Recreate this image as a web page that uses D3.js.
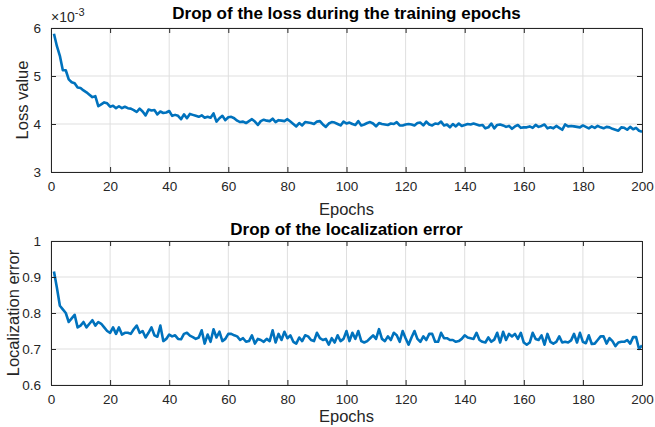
<!DOCTYPE html>
<html>
<head>
<meta charset="utf-8">
<script src="https://cdn.jsdelivr.net/npm/d3@7"></script>
<style>
  body { margin: 0; background: #fff; }
  svg { display: block; font-family: "Liberation Sans", Arial, sans-serif; }
</style>
</head>
<body>
<div id="chart"></div>
<script>
// loss values (x 1e-3), epochs 1..200
const lossValues = [
  5.88, 5.62, 5.42, 5.12, 5.12, 4.93, 4.87, 4.85, 4.76, 4.75,
  4.70, 4.66, 4.61, 4.56, 4.58, 4.37, 4.41, 4.45, 4.43, 4.36,
  4.38, 4.33, 4.37, 4.33, 4.36, 4.33, 4.32, 4.29, 4.25, 4.32,
  4.26, 4.18, 4.30, 4.28, 4.29, 4.20, 4.26, 4.23, 4.24, 4.27,
  4.17, 4.19, 4.17, 4.10, 4.20, 4.12, 4.21, 4.19, 4.17, 4.15,
  4.18, 4.13, 4.15, 4.13, 4.22, 4.05, 4.12, 4.17, 4.08, 4.14,
  4.15, 4.12, 4.07, 4.04, 4.05, 4.02, 4.06, 4.10, 4.05, 3.98,
  4.06, 4.09, 4.07, 4.06, 4.11, 4.04, 4.08, 4.07, 4.06, 4.10,
  4.05, 4.00, 3.95, 4.02, 3.97, 4.04, 4.03, 4.02, 4.00, 4.05,
  4.06, 3.99, 3.94, 4.01, 4.04, 4.03, 4.00, 3.97, 4.05, 4.01,
  4.03, 4.00, 3.98, 4.06, 3.97, 3.99, 4.02, 4.04, 4.01, 3.95,
  4.02, 4.00, 3.99, 3.98, 4.01, 4.00, 4.04, 3.97, 3.97, 3.99,
  4.00, 3.99, 3.97, 4.02, 4.03, 3.97, 4.05, 3.99, 3.97, 4.01,
  4.00, 4.05, 3.97, 3.99, 3.93, 4.00, 3.95, 4.01, 3.96, 3.98,
  4.00, 3.99, 4.01, 3.99, 3.97, 3.98, 3.91, 3.93, 4.01, 3.91,
  3.98, 3.99, 3.97, 3.94, 3.96, 3.90, 3.95, 3.98, 3.92, 3.93,
  3.93, 3.95, 3.92, 3.98, 3.94, 3.96, 3.99, 3.91, 3.93, 3.91,
  3.96, 3.92, 3.88, 3.99, 3.95, 3.96, 3.95, 3.94, 3.93, 3.97,
  3.94, 3.91, 3.95, 3.92, 3.96, 3.93, 3.91, 3.94, 3.93, 3.90,
  3.88, 3.86, 3.93, 3.92, 3.88, 3.94, 3.89, 3.92, 3.86, 3.84
];

// localization error, epochs 1..200
const locError = [
  0.915, 0.87, 0.82, 0.81, 0.80, 0.775, 0.785, 0.795, 0.76, 0.765,
  0.775, 0.76, 0.77, 0.78, 0.765, 0.775, 0.77, 0.76, 0.75, 0.745,
  0.76, 0.742, 0.76, 0.74, 0.745, 0.745, 0.742, 0.755, 0.765, 0.745,
  0.75, 0.732, 0.745, 0.76, 0.738, 0.734, 0.765, 0.722, 0.728, 0.74,
  0.735, 0.738, 0.728, 0.727, 0.742, 0.745, 0.737, 0.733, 0.728, 0.732,
  0.752, 0.715, 0.74, 0.72, 0.755, 0.732, 0.748, 0.722, 0.728, 0.742,
  0.742, 0.738, 0.735, 0.725, 0.73, 0.72, 0.722, 0.738, 0.715, 0.728,
  0.725, 0.72, 0.728, 0.722, 0.752, 0.718, 0.742, 0.725, 0.748, 0.73,
  0.738, 0.72, 0.715, 0.732, 0.722, 0.738, 0.735, 0.725, 0.722, 0.745,
  0.73, 0.725, 0.728, 0.712, 0.73, 0.718, 0.738, 0.722, 0.728, 0.75,
  0.722, 0.745, 0.728, 0.75, 0.722, 0.718, 0.722, 0.73, 0.738, 0.728,
  0.755, 0.728, 0.722, 0.735, 0.725, 0.745, 0.738, 0.72, 0.75, 0.73,
  0.712, 0.732, 0.75, 0.728, 0.72, 0.735, 0.725, 0.742, 0.742, 0.72,
  0.72, 0.745, 0.73, 0.73, 0.725, 0.725, 0.72, 0.722, 0.728, 0.738,
  0.732, 0.73, 0.728, 0.745, 0.725, 0.72, 0.718, 0.732, 0.72, 0.726,
  0.745, 0.718, 0.748, 0.725, 0.742, 0.735, 0.742, 0.728, 0.745, 0.718,
  0.712, 0.718, 0.745, 0.728, 0.725, 0.738, 0.712, 0.742, 0.72, 0.715,
  0.72, 0.735, 0.718, 0.72, 0.718, 0.724, 0.742, 0.718, 0.745, 0.72,
  0.716, 0.738, 0.714, 0.715, 0.725, 0.735, 0.735, 0.715, 0.73, 0.722,
  0.708, 0.718, 0.72, 0.72, 0.725, 0.715, 0.733, 0.733, 0.70, 0.71
];

const xTicks = [0, 20, 40, 60, 80, 100, 120, 140, 160, 180, 200];
const lossTicks = [3, 4, 5, 6];
const errTicks = [0.6, 0.7, 0.8, 0.9, 1];

const width = 655, height = 427;
const svg = d3.select("#chart").append("svg")
  .attr("width", width)
  .attr("height", height);

const axisColor = "#262626";
const lineColor = "#0072BD";

function drawPanel(cfg) {
  const x = d3.scaleLinear().domain([0, 200]).range([cfg.left, cfg.right]);
  const y = d3.scaleLinear().domain(cfg.yDomain).range([cfg.bottom, cfg.top]);
  const g = svg.append("g");

  // grid
  g.selectAll(".gx").data(xTicks).enter().append("line")
    .attr("x1", d => x(d)).attr("x2", d => x(d))
    .attr("y1", cfg.top).attr("y2", cfg.bottom)
    .attr("stroke", "#dfdfdf").attr("stroke-width", 1);
  g.selectAll(".gy").data(cfg.yTicks).enter().append("line")
    .attr("x1", cfg.left).attr("x2", cfg.right)
    .attr("y1", d => y(d)).attr("y2", d => y(d))
    .attr("stroke", "#dfdfdf").attr("stroke-width", 1);

  // data line
  const line = d3.line().x((d, i) => x(i + 1)).y(d => y(d));
  g.append("path").datum(cfg.values)
    .attr("d", line)
    .attr("fill", "none")
    .attr("stroke", lineColor)
    .attr("stroke-width", 2.6)
    .attr("stroke-linejoin", "round");

  // axes (ticks inside, box)
  const tl = 5;
  const bottomAxis = d3.axisBottom(x).tickValues(xTicks).tickSizeInner(-tl).tickSizeOuter(0).tickPadding(9);
  const topAxis = d3.axisTop(x).tickValues(xTicks).tickSizeInner(-tl).tickSizeOuter(0).tickFormat("");
  const leftAxis = d3.axisLeft(y).tickValues(cfg.yTicks).tickSizeInner(-tl).tickSizeOuter(0).tickPadding(10).tickFormat(cfg.fmt);
  const rightAxis = d3.axisRight(y).tickValues(cfg.yTicks).tickSizeInner(-tl).tickSizeOuter(0).tickFormat("");

  const axes = [
    g.append("g").attr("transform", `translate(0,${cfg.bottom})`).call(bottomAxis),
    g.append("g").attr("transform", `translate(0,${cfg.top})`).call(topAxis),
    g.append("g").attr("transform", `translate(${cfg.left},0)`).call(leftAxis),
    g.append("g").attr("transform", `translate(${cfg.right},0)`).call(rightAxis)
  ];
  axes.forEach(a => {
    a.selectAll("path").attr("stroke", axisColor).attr("stroke-width", 1);
    a.selectAll("line").attr("stroke", axisColor);
    a.selectAll("text").attr("fill", axisColor).style("font-size", "13.5px")
      .style("font-family", "'Liberation Sans', Arial, sans-serif");
  });

  // title
  svg.append("text")
    .attr("x", (cfg.left + cfg.right) / 2).attr("y", cfg.titleY)
    .attr("text-anchor", "middle")
    .style("font-weight", "bold").style("font-size", "17px")
    .attr("fill", "#000")
    .text(cfg.title);

  // x label
  svg.append("text")
    .attr("x", (cfg.left + cfg.right) / 2).attr("y", cfg.xlabelY)
    .attr("text-anchor", "middle")
    .style("font-size", "16.5px").attr("fill", axisColor)
    .text("Epochs");

  // y label
  svg.append("text")
    .attr("transform", `translate(${cfg.ylabelX},${(cfg.top + cfg.bottom) / 2}) rotate(-90)`)
    .attr("text-anchor", "middle")
    .style("font-size", "16.5px").attr("fill", axisColor)
    .text(cfg.ylabel);
}

drawPanel({
  left: 51, right: 642, top: 28, bottom: 172,
  yDomain: [3, 6], yTicks: lossTicks, fmt: d3.format("d"),
  values: lossValues,
  title: "Drop of the loss during the training epochs",
  titleY: 19, xlabelY: 215,
  ylabel: "Loss value", ylabelX: 28
});

drawPanel({
  left: 51, right: 642, top: 241, bottom: 385,
  yDomain: [0.6, 1], yTicks: errTicks, fmt: d => d === 1 ? "1" : d3.format(".1f")(d),
  values: locError,
  title: "Drop of the localization error",
  titleY: 235, xlabelY: 422,
  ylabel: "Localization error", ylabelX: 19
});

// exponent marker for loss axis
const expo = svg.append("text")
  .attr("x", 51).attr("y", 22)
  .style("font-size", "14px").attr("fill", axisColor);
expo.append("tspan").text("\u00d710");
expo.append("tspan").attr("dy", -6).style("font-size", "11px").text("-3");
</script>
</body>
</html>
